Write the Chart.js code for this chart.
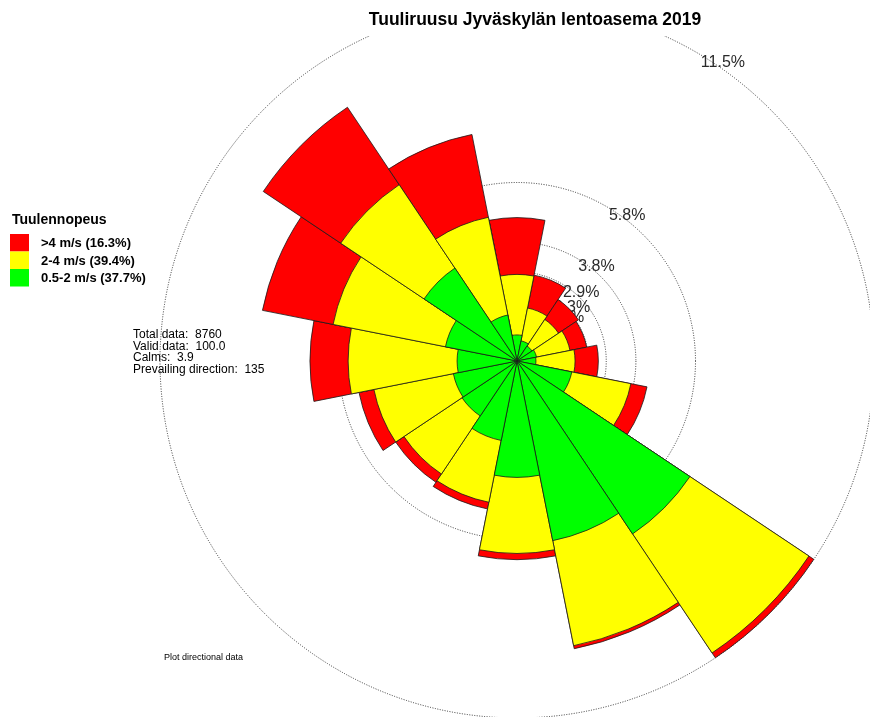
<!DOCTYPE html>
<html>
<head>
<meta charset="utf-8">
<script src="https://cdn.jsdelivr.net/npm/chart.js@4/dist/chart.umd.min.js"></script>
<style>
  html, body { margin: 0; padding: 0; background: #fff; overflow: hidden; }
  #wrap { position: absolute; left: 0; top: 0; width: 880px; height: 724px; }
</style>
</head>
<body>
<div id="wrap"><canvas id="rose" width="880" height="724"></canvas></div>
<script>
// Wind direction sectors, clockwise from north
const directions = ['N', 'NNE', 'NE', 'ENE', 'E', 'ESE', 'SE', 'SSE',
                    'S', 'SSW', 'SW', 'WSW', 'W', 'WNW', 'NW', 'NNW'];

// Frequency (% of hours) per sector and speed class
const speed05to2 = [0.84, 0.66, 0.58, 0.64, 0.61, 1.80, 6.70, 5.90,
                    3.75, 2.61, 2.13, 2.09, 1.93, 2.35, 3.60, 1.51];
const speed2to4  = [1.95, 1.08, 1.03, 1.10, 1.26, 1.94, 4.61, 3.45,
                    2.45, 2.03, 2.25, 2.61, 3.51, 3.69, 3.23, 3.21];
const speedOver4 = [1.83, 1.08, 0.77, 0.55, 0.75, 0.53, 0.19, 0.10,
                    0.20, 0.22, 0.32, 0.49, 1.23, 2.32, 3.00, 2.72];

const speedClasses = ['0.5-2 m/s', '2-4 m/s', '>4 m/s'];
const speedColors  = ['#00ff00', '#ffff00', '#ff0000'];

// Frequency rings and their labels
const ringValues = [11.5, 5.75, 3.83, 2.875, 2.3, 1.92];
const ringLabels = ['11.5%', '5.8%', '3.8%', '2.9%', '2.3%', '1.9%'];

const titleText  = 'Tuuliruusu Jyväskylän lentoasema 2019';
const legendTitle = 'Tuulennopeus';
const statLines = ['Total data:  8760', 'Valid data:  100.0', 'Calms:  3.9', 'Prevailing direction:  135'];
const footNote = 'Plot directional data';

// Stacked petals: each ring is drawn out to its cumulative frequency
const bands = [speed05to2, speed2to4, speedOver4];
const cumulative = [];
bands.forEach((band, k) => {
  cumulative.push(band.map((v, i) => v + (k > 0 ? cumulative[k - 1][i] : 0)));
});
const bandTotals = bands.map(b => b.reduce((a, v) => a + v, 0));

const FONT = '"Liberation Sans", Arial, sans-serif';
const LABEL_ANGLE = 31 * Math.PI / 180;

const roseText = {
  id: 'roseText',
  beforeDatasetsDraw(chart) {
    const ctx = chart.ctx;
    const r = chart.scales.r;
    ctx.save();
    ctx.font = '16px ' + FONT;
    ctx.fillStyle = '#2a2a2a';
    ctx.textAlign = 'left';
    ctx.textBaseline = 'top';
    ringValues.forEach((v, i) => {
      const d = r.getDistanceFromCenterForValue(v);
      const x = r.xCenter + d * Math.sin(LABEL_ANGLE);
      const y = r.yCenter - d * Math.cos(LABEL_ANGLE);
      ctx.fillText(ringLabels[i], x, y);
    });
    ctx.restore();
  },
  afterDraw(chart) {
    const ctx = chart.ctx;
    ctx.save();
    // title panel
    ctx.fillStyle = '#fff';
    ctx.fillRect(340, 0, 350, 36);
    ctx.fillStyle = '#000';
    ctx.font = 'bold 17.5px ' + FONT;
    ctx.textAlign = 'center';
    ctx.textBaseline = 'alphabetic';
    ctx.fillText(titleText, 535, 25);

    // legend
    ctx.textAlign = 'left';
    ctx.font = 'bold 14px ' + FONT;
    ctx.fillText(legendTitle, 12, 224);
    ctx.font = 'bold 13px ' + FONT;
    ctx.textBaseline = 'middle';
    const order = [2, 1, 0];
    order.forEach((k, row) => {
      const y = 234 + row * 17.5;
      ctx.fillStyle = speedColors[k];
      ctx.fillRect(10, y, 19, 17.5);
      ctx.fillStyle = '#000';
      ctx.fillText(speedClasses[k] + ' (' + bandTotals[k].toFixed(1) + '%)', 41, y + 9.5);
    });

    // summary
    ctx.font = '12px ' + FONT;
    ctx.textBaseline = 'alphabetic';
    statLines.forEach((t, i) => ctx.fillText(t, 133, 338 + i * 11.5));

    ctx.font = '9px ' + FONT;
    ctx.fillText(footNote, 164, 660);
    ctx.restore();
  }
};

new Chart(document.getElementById('rose'), {
  type: 'polarArea',
  data: {
    labels: directions,
    datasets: cumulative.map((data, k) => ({
      label: speedClasses[k],
      data: data,
      backgroundColor: speedColors[k],
      borderColor: '#1a1a1a',
      borderWidth: 0.8
    }))
  },
  options: {
    responsive: false,
    animation: false,
    devicePixelRatio: 1,
    layout: { padding: { left: 160, right: 6, top: 4, bottom: 6 } },
    plugins: { legend: { display: false }, tooltip: { enabled: false }, title: { display: false } },
    scales: {
      r: {
        min: 0,
        max: ringValues[0],
        startAngle: -11.25,
        ticks: { display: false },
        afterBuildTicks(scale) {
          scale.ticks = [0].concat(ringValues.slice().sort((a, b) => a - b)).map(v => ({ value: v }));
        },
        grid: { circular: true, color: '#333', lineWidth: 1 },
        border: { dash: [1, 1.5] },
        angleLines: { display: false },
        pointLabels: { display: false }
      }
    }
  },
  plugins: [roseText]
});
</script>
</body>
</html>
